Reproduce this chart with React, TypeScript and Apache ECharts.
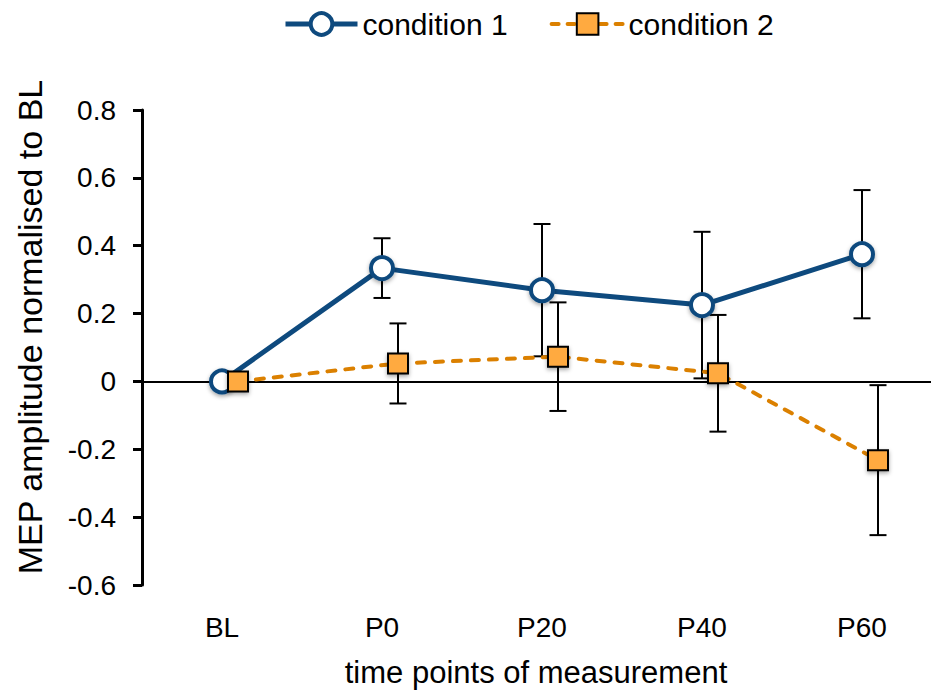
import React, { useEffect, useRef } from "react";
import * as echarts from "echarts";

const categories = ["BL", "P0", "P20", "P40", "P60"];
const cond1Mean = [0, 0.334, 0.269, 0.225, 0.375];
const cond1Err = [0, 0.088, 0.195, 0.216, 0.189];
const cond2Mean = [0, 0.053, 0.073, 0.024, -0.232];
const cond2Err = [0, 0.118, 0.16, 0.172, 0.221];
const yTicks = ["-0.6", "-0.4", "-0.2", "0", "0.2", "0.4", "0.6", "0.8"];
const cond2Offset = 0.1;

const FONT = "'Liberation Sans', Arial, Helvetica, sans-serif";
const BLUE = "#0E4A7E";
const ORANGE = "#DB8000";
const ORANGE_FILL = "#FFAA40";

function errData(mean: number[], err: number[], off: number) {
  return mean.map((m, i) => [i + off, m - err[i], m + err[i], err[i]]);
}

function errRender(params: any, api: any) {
  const e = api.value(3);
  if (!e) return null;
  const x = api.value(0);
  const lo = api.coord([x, api.value(1)]);
  const hi = api.coord([x, api.value(2)]);
  const cap = 8.5;
  const style = { stroke: "#000", lineWidth: 2 };
  return {
    type: "group",
    children: [
      { type: "line", shape: { x1: hi[0], y1: hi[1], x2: lo[0], y2: lo[1] }, style },
      { type: "line", shape: { x1: hi[0] - cap, y1: hi[1], x2: hi[0] + cap, y2: hi[1] }, style },
      { type: "line", shape: { x1: lo[0] - cap, y1: lo[1], x2: lo[0] + cap, y2: lo[1] }, style },
    ],
  };
}

export default function App() {
  const ref = useRef<HTMLDivElement>(null);
  useEffect(() => {
    if (!ref.current) return;
    const chart = echarts.init(ref.current, undefined, { renderer: "svg" });
    chart.setOption({
      animation: false,
      backgroundColor: "#fff",
      textStyle: { fontFamily: FONT },
      legend: {
        data: [
          {
            name: "condition 1",
            itemStyle: { color: "#fff", borderColor: BLUE, borderWidth: 4 },
            lineStyle: { color: BLUE, width: 5 },
          },
          {
            name: "condition 2",
            itemStyle: { color: ORANGE_FILL, borderColor: "#000", borderWidth: 2 },
            lineStyle: { color: ORANGE, width: 4, type: [7, 9], cap: "round" },
          },
        ],
        left: 278,
        top: 4,
        itemWidth: 72,
        itemHeight: 27,
        itemGap: 42,
        textStyle: { fontSize: 30, color: "#000", fontFamily: FONT },
      },
      grid: {
        left: 142,
        width: 800,
        top: 110,
        bottom: 106,
        containLabel: false,
        outerBoundsMode: "none",
      },
      xAxis: [
        {
          type: "category",
          data: categories,
          position: "bottom",
          axisLine: { show: false, onZero: false },
          axisTick: { show: false },
          axisLabel: { fontSize: 28, color: "#000", margin: 28, fontFamily: FONT },
          splitLine: { show: false },
        },
        {
          type: "value",
          min: -0.5,
          max: 4.5,
          position: "bottom",
          axisLine: { show: true, onZero: true, lineStyle: { color: "#000", width: 2 } },
          axisTick: { show: false },
          axisLabel: { show: false },
          splitLine: { show: false },
        },
      ],
      yAxis: {
        type: "value",
        min: -0.6,
        max: 0.8,
        interval: 0.2,
        axisLine: { show: true, onZero: false, lineStyle: { color: "#000", width: 3 } },
        axisTick: { show: true, inside: false, length: 9, lineStyle: { color: "#000", width: 3 } },
        axisLabel: {
          fontSize: 28,
          color: "#000",
          margin: 26,
          fontFamily: FONT,
          formatter: (v: number) => {
            const idx = Math.round((v + 0.6) / 0.2);
            return yTicks[idx] ?? String(v);
          },
        },
        splitLine: { show: false },
      },
      series: [
        {
          name: "err1",
          type: "custom",
          xAxisIndex: 1,
          renderItem: errRender,
          data: errData(cond1Mean, cond1Err, 0),
          z: 1,
          silent: true,
        },
        {
          name: "err2",
          type: "custom",
          xAxisIndex: 1,
          renderItem: errRender,
          data: errData(cond2Mean, cond2Err, cond2Offset),
          z: 1,
          silent: true,
        },
        {
          name: "condition 1",
          type: "line",
          xAxisIndex: 1,
          data: cond1Mean.map((v, i) => [i, v]),
          symbol: "circle",
          symbolSize: 22,
          lineStyle: { color: BLUE, width: 5 },
          itemStyle: {
            color: "#fff",
            borderColor: BLUE,
            borderWidth: 4,
            shadowBlur: 4,
            shadowColor: "rgba(0,0,0,0.35)",
            shadowOffsetY: 2,
          },
          z: 3,
        },
        {
          name: "condition 2",
          type: "line",
          xAxisIndex: 1,
          data: cond2Mean.map((v, i) => [i + cond2Offset, v]),
          symbol: "rect",
          symbolSize: 20,
          lineStyle: { color: ORANGE, width: 4, type: [8, 10], cap: "round" },
          itemStyle: {
            color: ORANGE_FILL,
            borderColor: "#000",
            borderWidth: 2,
            shadowBlur: 4,
            shadowColor: "rgba(0,0,0,0.35)",
            shadowOffsetY: 2,
          },
          z: 4,
        },
      ],
      graphic: [
        {
          type: "text",
          x: 536,
          y: 672,
          style: {
            text: "time points of measurement",
            fontSize: 31,
            fontFamily: FONT,
            fill: "#000",
            align: "center",
            verticalAlign: "middle",
          },
        },
        {
          type: "text",
          x: 30,
          y: 327,
          rotation: Math.PI / 2,
          style: {
            text: "MEP amplitude normalised to BL",
            fontSize: 34,
            fontFamily: FONT,
            fill: "#000",
            align: "center",
            verticalAlign: "middle",
          },
        },
      ],
    });
    return () => chart.dispose();
  }, []);
  return (
    <div
      ref={ref}
      style={{ position: "fixed", left: 0, top: 0, width: 931, height: 691 }}
    />
  );
}
